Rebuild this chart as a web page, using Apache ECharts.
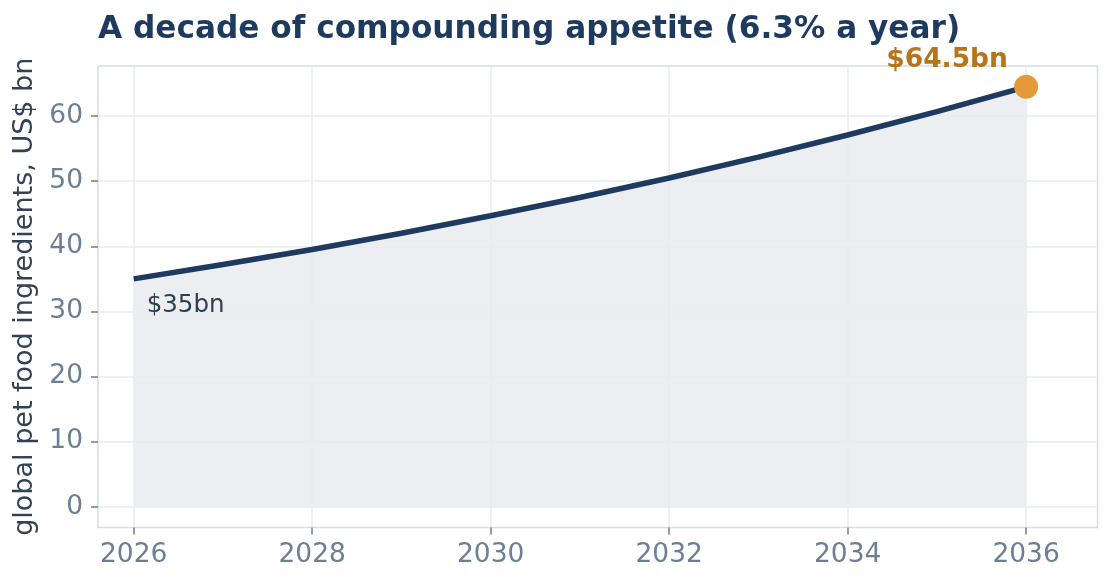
<!DOCTYPE html>
<html>
<head>
<meta charset="utf-8">
<script src="https://cdn.jsdelivr.net/npm/echarts@6/dist/echarts.min.js"></script>
<style>html,body{margin:0;padding:0;background:#fff;}#c{width:1113px;height:584px;}</style>
</head>
<body>
<div id="c"></div>
<script>
const years = [2026, 2027, 2028, 2029, 2030, 2031, 2032, 2033, 2034, 2035, 2036];
const values = [35.0, 37.2, 39.5, 42.0, 44.7, 47.5, 50.5, 53.7, 57.1, 60.7, 64.5];
const xTicks = [2026, 2028, 2030, 2032, 2034, 2036];
const yTicks = [0, 10, 20, 30, 40, 50, 60];
const titleText = 'A decade of compounding appetite (6.3% a year)';
const yName = 'global pet food ingredients, US$ bn';
const startLabel = '$35bn';
const endLabel = '$64.5bn';

const font = 'DejaVu Sans';
const chart = echarts.init(document.getElementById('c'), null, {renderer: 'canvas'});
const pts = years.map((y, i) => [y, values[i]]);
const last = pts.length - 1;

chart.setOption({
  animation: false,
  backgroundColor: '#fff',
  title: {
    text: titleText, left: 93, top: 9,
    textStyle: {fontFamily: font, fontWeight: 'bold', fontSize: 31.2, color: '#1e3a5f'}
  },
  grid: {left: 98, right: 15.5, top: 66, bottom: 56.5, show: true, borderColor: '#d5dde8', borderWidth: 1.5, containLabel: false, outerBoundsMode: 'none'},
  xAxis: {
    type: 'value', min: 2025.6, max: 2036.8, z: 1,
    axisLine: {show: false, onZero: false},
    axisTick: {show: true, customValues: xTicks, length: 7, lineStyle: {color: '#6b7f95', width: 1.5}},
    axisLabel: {customValues: xTicks, fontFamily: font, fontSize: 26.5, color: '#6b7f95', margin: 14, formatter: v => String(v)},
    splitLine: {show: true, lineStyle: {color: '#e7ecf2', width: 1.5}}
  },
  yAxis: {
    type: 'value', min: -3.2, max: 67.7, z: 1,
    name: yName, nameLocation: 'middle', nameGap: 52, nameRotate: 90,
    nameTextStyle: {fontFamily: font, fontSize: 27, color: '#334155'},
    axisLine: {show: false, onZero: false},
    axisTick: {show: true, customValues: yTicks, length: 7, lineStyle: {color: '#6b7f95', width: 1.5}},
    axisLabel: {customValues: yTicks, fontFamily: font, fontSize: 26.5, color: '#6b7f95', margin: 15},
    splitLine: {show: true, lineStyle: {color: '#e7ecf2', width: 1.5}}
  },
  series: [
    {
      type: 'line', data: pts, smooth: false, showSymbol: false, symbol: 'none',
      lineStyle: {width: 0, opacity: 0},
      areaStyle: {color: 'rgba(30,58,95,0.085)', origin: 0, opacity: 1},
      z: 0, silent: true
    },
    {
      type: 'line', data: pts, smooth: false, showSymbol: false, symbol: 'none',
      lineStyle: {color: '#1e3a5f', width: 5.5},
      z: 3
    },
    {
      type: 'scatter', data: [pts[0]], symbolSize: 0,
      itemStyle: {opacity: 1},
      label: {show: true, formatter: startLabel, position: 'right', offset: [8, 27], fontFamily: font, fontSize: 24.5, color: '#2f3f52'},
      z: 4
    },
    {
      type: 'scatter', data: [pts[last]], symbolSize: 24,
      itemStyle: {color: '#e5993b', opacity: 1},
      label: {show: true, formatter: endLabel, position: 'top', offset: [-79, 4], fontFamily: font, fontSize: 26.5, fontWeight: 'bold', color: '#b5751b'},
      z: 5
    }
  ]
});
</script>
</body>
</html>
